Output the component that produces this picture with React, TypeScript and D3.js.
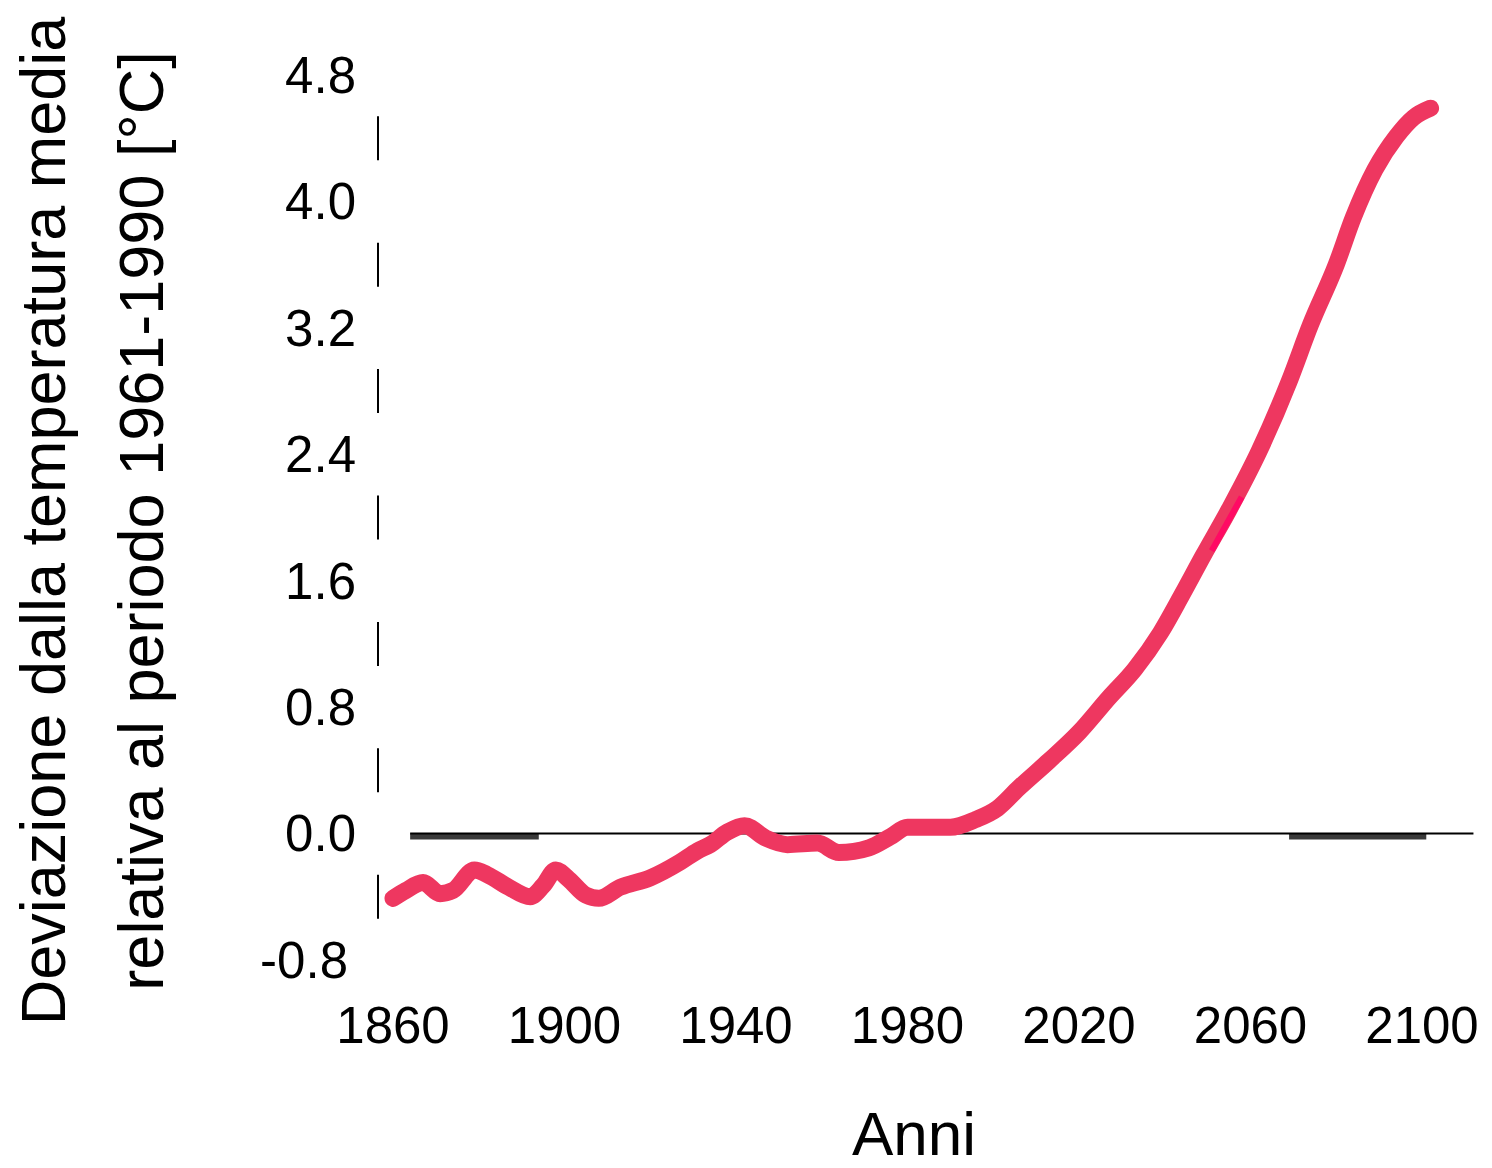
import * as d3 from "d3";

// reading of the curve: year -> deviation in °C
const years = [
  1860, 1863, 1867, 1871, 1874, 1879, 1882, 1887, 1892, 1895, 1898, 1901, 1905,
  1908, 1913, 1920, 1927, 1931, 1934, 1938, 1942, 1947, 1952, 1959, 1964, 1971,
  1976, 1980, 1990, 1996, 2001, 2006, 2013, 2020, 2027, 2033, 2039, 2044, 2049,
  2055, 2062, 2069, 2074, 2080, 2084, 2089, 2094, 2098, 2102,
];
const deviation = [
  -0.41, -0.36, -0.31, -0.38, -0.36, -0.23, -0.26, -0.34, -0.4, -0.33, -0.23,
  -0.29, -0.39, -0.41, -0.34, -0.28, -0.18, -0.11, -0.07, 0.01, 0.05, -0.03,
  -0.07, -0.06, -0.12, -0.09, -0.02, 0.04, 0.04, 0.09, 0.16, 0.29, 0.46, 0.64,
  0.86, 1.04, 1.27, 1.51, 1.76, 2.05, 2.42, 2.86, 3.22, 3.6, 3.9, 4.2, 4.41,
  4.53, 4.59,
];

// short bright stroke sitting on the curve
const highlightYears = [2050, 2057];
const highlightValues = [1.79, 2.13];

const yTicks = [-0.8, 0.0, 0.8, 1.6, 2.4, 3.2, 4.0, 4.8];
const xTicks = [1860, 1900, 1940, 1980, 2020, 2060, 2100];

// zero reference line and the two darker bars on it
const zeroSpan = [1864, 2112];
const zeroBars = [
  [1864, 1894],
  [2069, 2101],
];

const yTitle = [
  "Deviazione dalla temperatura media",
  "relativa al periodo 1961-1990 [°C]",
];
const xTitle = "Anni";

const W = 1492;
const H = 1168;
const font = "'Liberation Sans', Arial, Helvetica, sans-serif";

export default function App() {
  const x = d3.scaleLinear().domain([1860, 2100]).range([393, 1422]);
  const y = d3.scaleLinear().domain([-0.8, 4.8]).range([960, 75]);

  const data = years.map((yr, i) => ({ yr, v: deviation[i] }));
  const hl = highlightYears.map((yr, i) => ({ yr, v: highlightValues[i] }));

  const line = d3
    .line<{ yr: number; v: number }>()
    .x((d) => x(d.yr))
    .y((d) => y(d.v))
    .curve(d3.curveMonotoneX);

  const axisX = 378;

  return (
    <svg
      width={W}
      height={H}
      style={{ position: "absolute", left: 0, top: 0, background: "#fff" }}
      fontFamily={font}
    >
      {/* y title, two rotated lines */}
      {yTitle.map((t, i) => (
        <text
          key={i}
          transform={`translate(${65 + i * 98},521) rotate(-90)`}
          textAnchor="middle"
          fontSize={63}
          fill="#000"
        >
          {t}
        </text>
      ))}

      {/* y axis: broken into short dashes between labels */}
      {yTicks.slice(1).map((t, i) => {
        const mid = (y(t) + y(yTicks[i])) / 2;
        return (
          <line
            key={i}
            x1={axisX}
            x2={axisX}
            y1={mid - 22}
            y2={mid + 22}
            stroke="#000"
            strokeWidth={2}
          />
        );
      })}
      {yTicks.map((t) => (
        <text
          key={t}
          x={t < 0 ? 348 : 356}
          y={y(t)}
          dy="0.35em"
          textAnchor="end"
          fontSize={51}
          fill="#000"
        >
          {t.toFixed(1)}
        </text>
      ))}

      {/* x labels */}
      {xTicks.map((t) => (
        <text
          key={t}
          x={x(t)}
          y={1043}
          textAnchor="middle"
          fontSize={51}
          fill="#000"
        >
          {t}
        </text>
      ))}
      <text x={914} y={1155} textAnchor="middle" fontSize={62} fill="#000">
        {xTitle}
      </text>

      {/* zero line */}
      {zeroBars.map(([a, b], i) => (
        <line
          key={i}
          x1={x(a)}
          x2={x(b)}
          y1={y(0) + 3}
          y2={y(0) + 3}
          stroke="#3a3a3a"
          strokeWidth={6}
        />
      ))}
      <line
        x1={x(zeroSpan[0])}
        x2={x(zeroSpan[1])}
        y1={y(0)}
        y2={y(0)}
        stroke="#000"
        strokeWidth={2}
      />

      {/* temperature curve */}
      <path
        d={line(data) ?? ""}
        fill="none"
        stroke="#ee3760"
        strokeWidth={17}
        strokeLinecap="round"
        strokeLinejoin="round"
      />
      <path
        d={line(hl) ?? ""}
        transform="translate(4,0)"
        fill="none"
        stroke="#ff0a64"
        strokeWidth={6}
      />
    </svg>
  );
}
